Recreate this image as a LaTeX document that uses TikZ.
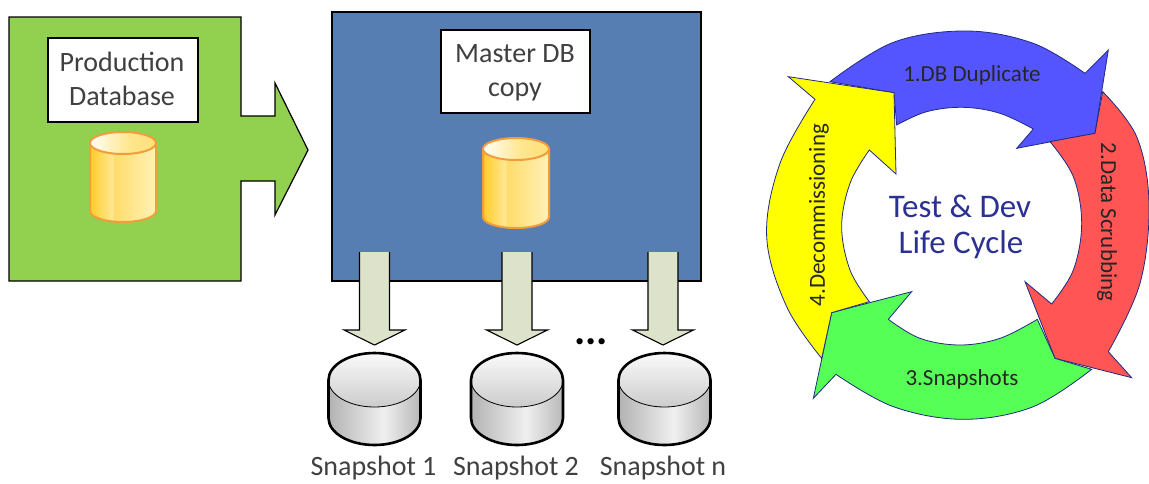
\documentclass[tikz,border=0pt]{standalone}
\usepackage{fontspec}
\setmainfont{Carlito}
\definecolor{srcgreen}{HTML}{92D050}
\definecolor{masterblue}{HTML}{567EB3}
\definecolor{cylorange}{HTML}{F39C3C}
\definecolor{arrowfill}{HTML}{DDE2CB}
\definecolor{cycleline}{HTML}{1F2A80}
\definecolor{cycleblue}{HTML}{5555FF}
\definecolor{cyclered}{HTML}{FF5555}
\definecolor{cyclegreen}{HTML}{55FF55}
\definecolor{cycleyellow}{HTML}{FFFF00}
\definecolor{centertext}{HTML}{2B3190}
\definecolor{labeltext}{HTML}{404040}
\pgfdeclarehorizontalshading{cylbody}{100bp}{rgb(0bp)=(1,.80,.15); rgb(25bp)=(1,.80,.15); rgb(42bp)=(1,.91,.58); rgb(43bp)=(1,.86,.42); rgb(75bp)=(1,.95,.72); rgb(100bp)=(1,.95,.72)}
\pgfdeclarehorizontalshading{cyltop}{100bp}{rgb(0bp)=(1,1,.97); rgb(25bp)=(1,1,.97); rgb(55bp)=(1,.90,.55); rgb(75bp)=(1,.88,.48); rgb(100bp)=(1,.88,.48)}
\pgfdeclarehorizontalshading{diskbody}{100bp}{rgb(0bp)=(.70,.70,.70); rgb(25bp)=(.70,.70,.70); rgb(55bp)=(.94,.94,.94); rgb(75bp)=(.72,.72,.72); rgb(100bp)=(.72,.72,.72)}
\pgfdeclareverticalshading{disktop}{100bp}{rgb(0bp)=(.80,.80,.80); rgb(25bp)=(.80,.80,.80); rgb(75bp)=(.98,.98,.98); rgb(100bp)=(.98,.98,.98)}
\tikzset{
  box/.style={draw=black,line width=1.2pt,line join=miter},
  labelbox/.style={draw=black,line width=1.2pt,fill=white,minimum width=150pt,minimum height=84pt,inner sep=0pt},
  boxtext/.style={font=\fontsize{28}{33.5}\selectfont,text=labeltext,align=center,inner sep=0pt},
  snaplabel/.style={font=\fontsize{28}{32}\selectfont,text=labeltext,inner sep=0pt,anchor=base},
  cyclepart/.style={draw=cycleline,line width=.8pt,line join=miter},
  cycletext/.style={font=\fontsize{23}{27}\selectfont,text=black!85,inner sep=0pt},
  centerlabel/.style={font=\fontsize{33}{38}\selectfont,text=centertext,inner sep=0pt},
  pics/goldcyl/.style={code={
    \path[shading=cylbody] (-33,-34) -- (33,-34) -- (33,34) arc[start angle=0,end angle=-180,x radius=33pt,y radius=11pt] -- cycle;
    \draw[cylorange,line width=2pt] (-33,-34) -- (-33,34) arc[start angle=180,end angle=360,x radius=33pt,y radius=11pt] -- (33,-34);
    \path[shading=cyltop] (0,-34) ellipse[x radius=33pt,y radius=11pt];
    \draw[cylorange,line width=2pt] (0,-34) ellipse[x radius=33pt,y radius=11pt];
  }},
  pics/snapdisk/.style={code={
    \path[shading=diskbody] (-46,-19) -- (46,-19) -- (46,19) arc[start angle=0,end angle=-180,x radius=46pt,y radius=27pt] -- cycle;
    \path[shading=disktop] (0,-19) ellipse[x radius=46pt,y radius=27pt];
    \draw[black,line width=.8pt] (-46,-19) arc[start angle=180,end angle=360,x radius=46pt,y radius=27pt];
    \draw[black,line width=2.6pt] (-46,-19) arc[start angle=180,end angle=0,x radius=46pt,y radius=27pt] -- (46,19) arc[start angle=0,end angle=-180,x radius=46pt,y radius=27pt] -- cycle;
  }},
  pics/downarrow/.style={code={
    \fill[arrowfill] (-15,0) -- (15,0) -- (15,78) -- (30.5,78) -- (0,93) -- (-30.5,78) -- (-15,78) -- cycle;
    \draw[black,line width=1.1pt,line join=miter] (-15,0) -- (-15,78) -- (-30.5,78) -- (0,93) -- (30.5,78) -- (15,78) -- (15,0);
  }},
}
\begin{document}
\begin{tikzpicture}[x=1pt,y=-1pt]
\useasboundingbox (0,0) rectangle (1149,483);
% Production database
\draw[box,fill=srcgreen] (9,17) -- (241,17) -- (241,116) -- (275,116) -- (275,83) -- (308,150) -- (275,215) -- (275,181) -- (241,181) -- (241,281) -- (9,281) -- cycle;
\node[labelbox] (prodbox) at (123,80) {};
\node[boxtext] (prodtext) at (122,79) {Production\\Database};
\pic at (123,177) {goldcyl};
% Master DB copy
\draw[box,fill=masterblue] (332,12) rectangle (701,281);
\node[labelbox,minimum width=149pt,minimum height=83pt] (masterbox) at (515.5,71.5) {};
\node[boxtext] (mastertext) at (515,73) {Master DB\\copy};
\pic at (516,183) {goldcyl};
% Snapshot arrows and disks
\pic at (374.5,252) {downarrow};
\pic at (517,252) {downarrow};
\pic at (663,252) {downarrow};
\pic at (374.5,399) {snapdisk};
\pic at (517,399) {snapdisk};
\pic at (664.5,399) {snapdisk};
\node[font=\fontsize{42}{42}\bfseries\selectfont,inner sep=0pt] (dots) at (591,342) {...};
\node[snaplabel] (snapa) at (373.5,475.5) {Snapshot 1};
\node[snaplabel] (snapb) at (516,475.5) {Snapshot 2};
\node[snaplabel] (snapc) at (663,475.5) {Snapshot n};
% Life cycle
\begin{scope}[shift={(750,30)},x=.33333pt,y=-.33333pt]
\draw[cyclepart,fill=cycleblue] (240,155) -- plot[smooth,tension=.6] coordinates {(240,155) (430,37) (650,3) (850,40) (1005,130)} -- (1075,60) -- (1035,310) -- (800,355) -- (850,297) -- plot[smooth,tension=.6] coordinates {(850,297) (750,250) (640,232) (530,245) (440,285)} -- (432,188) -- cycle;
\draw[cyclepart,fill=cyclered] (1058,185) -- plot[smooth,tension=.6] coordinates {(1058,185) (1160,320) (1197,520) (1170,760) (1075,965)} -- (1145,1043) -- (915,985) -- (825,755) -- (905,822) -- plot[smooth,tension=.6] coordinates {(905,822) (970,720) (995,580) (970,440) (900,335)} -- (1035,310) -- cycle;
\draw[cyclepart,fill=cyclegreen] (485,785) -- (245,848) -- (190,1105) -- (258,1033) -- plot[smooth,tension=.6] coordinates {(258,1033) (430,1130) (640,1168) (850,1130) (1025,1018)} -- (915,985) -- (862,868) -- plot[smooth,tension=.6] coordinates {(862,868) (750,925) (630,945) (510,925) (415,868)} -- cycle;
\draw[cyclepart,fill=cycleyellow] (115,140) -- (432,188) -- (438,432) -- (358,360) -- plot[smooth,tension=.6] coordinates {(358,360) (300,460) (275,590) (300,720) (358,815)} -- (245,848) -- (215,985) -- plot[smooth,tension=.6] coordinates {(215,985) (110,830) (50,620) (90,400) (195,208)} -- cycle;
\end{scope}
\node[cycletext] (stepa) at (972,75) {1.DB Duplicate};
\node[cycletext,rotate=-90] (stepb) at (1107,222) {2.Data Scrubbing};
\node[cycletext] (stepc) at (962,379) {3.Snapshots};
\node[cycletext,rotate=90] (stepd) at (819,215) {4.Decommissioning};
\node[centerlabel] (centera) at (960,206) {Test \& Dev};
\node[centerlabel] (centerb) at (961,245) {Life Cycle};
\end{tikzpicture}
\end{document}
